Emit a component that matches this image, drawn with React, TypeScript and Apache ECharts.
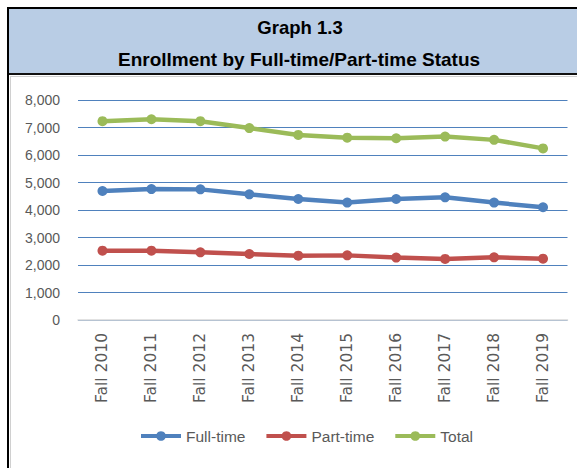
import React, { useEffect, useRef } from "react";
import * as echarts from "echarts";

const categories = ["Fall 2010", "Fall 2011", "Fall 2012", "Fall 2013", "Fall 2014", "Fall 2015", "Fall 2016", "Fall 2017", "Fall 2018", "Fall 2019"];
const fullTime = [4690, 4760, 4750, 4570, 4400, 4270, 4400, 4460, 4270, 4100];
const partTime = [2520, 2520, 2460, 2400, 2340, 2350, 2270, 2220, 2280, 2230];
const total = [7230, 7300, 7230, 6980, 6730, 6630, 6610, 6670, 6550, 6240];
const titleLine1 = "Graph 1.3";
const titleLine2 = "Enrollment by Full-time/Part-time Status";

const W = 577;
const H = 468;

export default function App() {
  const ref = useRef<HTMLDivElement>(null);
  useEffect(() => {
    if (!ref.current) return;
    const chart = echarts.init(ref.current, null, { renderer: "svg" });
    const mk = (name: string, data: number[], color: string) => ({
      name,
      type: "line",
      data,
      symbol: "circle",
      symbolSize: 10,
      lineStyle: { color, width: 4.5 },
      itemStyle: { color },
    });
    chart.setOption({
      animation: false,
      backgroundColor: "#ffffff",
      graphic: [
        { type: "rect", shape: { x: 8, y: 8, width: W, height: 66 }, style: { fill: "#b9cde5" }, z: 0 },
        { type: "rect", shape: { x: 7, y: 7, width: W, height: 2 }, style: { fill: "#000" }, z: 1 },
        { type: "rect", shape: { x: 7, y: 73, width: W, height: 2 }, style: { fill: "#111" }, z: 1 },
        { type: "rect", shape: { x: 7, y: 7, width: 2, height: H }, style: { fill: "#000" }, z: 1 },
        { type: "rect", shape: { x: 10, y: 76, width: 1, height: H }, style: { fill: "#d0d0d0" }, z: 1 },
        { type: "rect", shape: { x: 10, y: 76, width: W, height: 1 }, style: { fill: "#d0d0d0" }, z: 1 },
        {
          type: "text", x: 300, y: 27, z: 2,
          style: { text: titleLine1, fill: "#000", font: "bold 18.5px 'Liberation Sans'", align: "center", verticalAlign: "middle" },
        },
        {
          type: "text", x: 299, y: 59, z: 2,
          style: { text: titleLine2, fill: "#000", font: "bold 19px 'Liberation Sans'", align: "center", verticalAlign: "middle" },
        },
      ],
      grid: { left: 78, right: 9.5, top: 100, bottom: 148, containLabel: false },
      legend: {
        bottom: 19,
        left: 134,
        itemWidth: 40,
        itemHeight: 12,
        itemGap: 19,
        lineStyle: { width: 4 },
        textStyle: { fontFamily: "Liberation Sans", fontSize: 15.5, color: "#595959" },
        data: ["Full-time", "Part-time", "Total"],
      },
      xAxis: {
        type: "category",
        data: categories,
        boundaryGap: true,
        axisLine: { lineStyle: { color: "#d9d9d9", width: 1.5 } },
        axisTick: { show: false },
        axisLabel: { rotate: 90, interval: 0, margin: 13, fontFamily: "DejaVu Sans", fontSize: 15.5, color: "#595959" },
      },
      yAxis: {
        type: "value",
        min: 0,
        max: 8000,
        interval: 1000,
        axisLine: { show: false },
        axisTick: { show: false },
        splitLine: { lineStyle: { color: "#4f81bd", width: 1 } },
        axisLabel: {
          margin: 18,
          fontFamily: "Liberation Sans",
          fontSize: 14,
          color: "#595959",
          formatter: (v: number) => v.toLocaleString("en-US"),
        },
      },
      series: [mk("Full-time", fullTime, "#4f81bd"), mk("Part-time", partTime, "#c0504d"), mk("Total", total, "#9bbb59")],
    });
    return () => chart.dispose();
  }, []);
  return <div ref={ref} style={{ position: "fixed", left: 0, top: 0, width: W, height: H }} />;
}
